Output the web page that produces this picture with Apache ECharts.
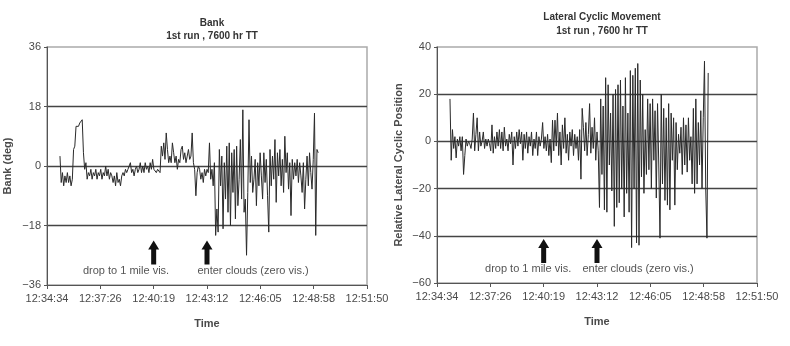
<!DOCTYPE html>
<html>
<head>
<meta charset="utf-8">
<script src="https://cdn.jsdelivr.net/npm/echarts@6/dist/echarts.min.js"></script>
<style>html,body{margin:0;padding:0;background:#fff}#c{width:790px;height:346px}</style>
</head>
<body>
<div id="c"></div>
<script>
// time axis: seconds after 12:34:34
const tickLabels = ['12:34:34','12:37:26','12:40:19','12:43:12','12:46:05','12:48:58','12:51:50'];
const axisSpan = 1036;
const sampleStart = 42;   // first sample, s after 12:34:34
const sampleStep = 4;     // s between samples

const bankTicks = [-36, -18, 0, 18, 36];
const cyclicTicks = [-60, -40, -20, 0, 20, 40];

const bank = [
 3,-5,-2,-6,-3,-5,-2,-5,-3,-6,-4,5,6,12,12,12,13,13,14,4,
 -1,1,-4,-2,-3,-1,-4,-2,-3,-1,-4,-2,-3,-1,-4,-2,-3,0,-3,-1,
 -4,-2,-3,-5,-3,-6,-2,-5,-4,-6,-3,-2,-3,-1,-2,-1,0,1,-2,-1,
 -3,-1,0,-2,-1,1,-2,0,-2,1,-1,0,-2,1,-1,2,-1,-1,-2,-1,
 -1,-2,6,3,7,2,10,5,1,3,1,7,4,1,3,-1,2,1,5,6,
 2,4,1,3,5,2,3,10,1,-1,-9,-2,0,-1,-4,-2,-5,-1,-3,-1,
 -2,7,-4,-1,-6,1,-21,-13,-20,5,-6,3,-19,1,-10,6,-14,7,-18,4,
 -8,5,-16,6,-12,-4,8,-10,17,-14,-10,-27,-8,14,-5,3,-8,-4,2,-12,
 1,-6,4,-3,-10,4,-5,2,-9,-20,5,-6,3,-4,8,-11,4,-3,5,-6,
 2,-8,9,-2,4,-7,1,-15,2,-4,1,-3,2,-5,1,-3,-8,1,-13,-4,
 3,-6,4,-2,-7,2,16,-21,5,4
];

const cyclic = [
 18,-8,5,-3,2,-7,1,-2,2,-4,2,-14,-6,1,-2,0,-1,-3,1,12,
 -4,3,10,-4,4,-2,0,4,-3,1,-2,1,-1,-4,7,-5,2,-3,4,-2,
 5,-3,4,-4,6,-2,1,-4,3,-1,4,-10,2,-3,4,-2,5,-1,4,-8,
 3,-3,4,-5,2,-2,4,-6,1,-3,4,-6,2,-2,1,8,-3,2,-4,3,
 -6,1,-9,9,-4,9,-2,12,-6,4,-10,7,-3,10,-5,3,-8,4,-2,5,
 -6,3,-3,2,-8,5,-16,14,6,-4,8,-6,3,16,-5,6,-3,10,-8,4,
 -4,-28,18,-14,15,-29,27,-30,24,-10,12,-21,20,-36,22,-28,24,-26,26,-20,
 15,-32,27,-22,12,-30,30,-45,28,-20,31,-43,33,-44,26,-15,20,-22,5,-14,
 18,-12,16,-20,18,-8,13,-24,16,-10,-41,20,-18,14,-25,10,-27,16,-29,12,
 -8,10,-27,8,-12,3,-5,6,-14,10,-10,7,-13,10,-8,2,-18,14,-22,18,
 -18,8,-10,13,-20,10,34,-20,-41,29
];

const bankData = bank.map((v, i) => [sampleStart + i * sampleStep, v]);
const cyclicData = cyclic.map((v, i) => [sampleStart + i * sampleStep, v]);

const FONT = 'Liberation Sans, Arial, sans-serif';
const TXT = '#4a4a4a';
const interval = axisSpan / 6;
const arrowPath = 'path://M5.5,0 L11,9 L8,9 L8,24 L3,24 L3,9 L0,9 Z';

function xAxis(gi) {
  return {
    gridIndex: gi, type: 'value', min: 0, max: axisSpan, interval: interval,
    name: 'Time', nameLocation: 'middle', nameGap: 33,
    nameTextStyle: {fontFamily: FONT, fontSize: 11, fontWeight: 'bold', color: TXT},
    axisLine: {onZero: false, lineStyle: {color: '#555', width: 1}},
    axisTick: {show: true, inside: false, length: 4, lineStyle: {color: '#555'}},
    axisLabel: {fontFamily: FONT, fontSize: 11, color: TXT, margin: 8,
      formatter: v => tickLabels[Math.round(v / interval)]},
    splitLine: {show: false}
  };
}
function yAxis(gi, min, max, step, name, gap) {
  return {
    gridIndex: gi, type: 'value', min: min, max: max, interval: step,
    name: name, nameLocation: 'middle', nameRotate: 90, nameGap: gap,
    nameTextStyle: {fontFamily: FONT, fontSize: 11, fontWeight: 'bold', color: TXT},
    axisLine: {show: true, onZero: false, lineStyle: {color: '#555', width: 1}},
    axisTick: {show: true, length: 3, lineStyle: {color: '#555'}},
    axisLabel: {fontFamily: FONT, fontSize: 11, color: TXT, margin: 6,
      formatter: v => (v < 0 ? '\u2212' + Math.abs(v) : String(v))},
    splitLine: {show: true, showMinLine: false, showMaxLine: false, lineStyle: {color: '#444', width: 1.3}}
  };
}
function annotations(arrowY, textY, dropX, cloudX) {
  const lbl = {show: true, position: 'inside', fontFamily: FONT, fontSize: 11, color: '#555'};
  return {
    silent: true, animation: false,
    data: [
      {coord: [2 * interval, arrowY], symbol: arrowPath, symbolSize: [11, 24], itemStyle: {color: '#111'}, label: {show: false}},
      {coord: [3 * interval, arrowY], symbol: arrowPath, symbolSize: [11, 24], itemStyle: {color: '#111'}, label: {show: false}},
      {coord: [dropX, textY], symbol: 'rect', symbolSize: 1, itemStyle: {color: 'rgba(0,0,0,0)'}, label: Object.assign({formatter: 'drop to 1 mile vis.'}, lbl)},
      {coord: [cloudX, textY], symbol: 'rect', symbolSize: 1, itemStyle: {color: 'rgba(0,0,0,0)'}, label: Object.assign({formatter: 'enter clouds (zero vis.)'}, lbl)}
    ]
  };
}

const option = {
  animation: false,
  backgroundColor: '#fff',
  title: [
    {text: 'Bank\n1st run , 7600 hr TT', left: 207, top: 12, textAlign: 'center',
     textStyle: {fontFamily: FONT, fontSize: 10, fontWeight: 'bold', color: '#333', lineHeight: 13}},
    {text: 'Lateral Cyclic Movement\n1st run , 7600 hr TT', left: 597, top: 5, textAlign: 'center',
     textStyle: {fontFamily: FONT, fontSize: 10, fontWeight: 'bold', color: '#333', lineHeight: 14}}
  ],
  grid: [
    {left: 47, right: 423, top: 47, bottom: 61, show: true, borderColor: '#aaa', borderWidth: 1.5, backgroundColor: '#fff'},
    {left: 437, right: 33, top: 47, bottom: 63, show: true, borderColor: '#aaa', borderWidth: 1.5, backgroundColor: '#fff'}
  ],
  xAxis: [xAxis(0), xAxis(1)],
  yAxis: [
    yAxis(0, bankTicks[0], bankTicks[bankTicks.length - 1], 18, 'Bank (deg)', 34),
    yAxis(1, cyclicTicks[0], cyclicTicks[cyclicTicks.length - 1], 20, 'Relative Lateral Cyclic Position', 33)
  ],
  series: [
    {type: 'line', xAxisIndex: 0, yAxisIndex: 0, data: bankData, showSymbol: false,
     lineStyle: {color: '#2a2a2a', width: 1}, markPoint: annotations(-26.2, -31.8, 256, 667)},
    {type: 'line', xAxisIndex: 1, yAxisIndex: 1, data: cyclicData, showSymbol: false,
     lineStyle: {color: '#2a2a2a', width: 1}, markPoint: annotations(-46.4, -54.2, 295, 651)}
  ]
};
echarts.init(document.getElementById('c'), null, {renderer: 'canvas'}).setOption(option);
</script>
</body>
</html>
